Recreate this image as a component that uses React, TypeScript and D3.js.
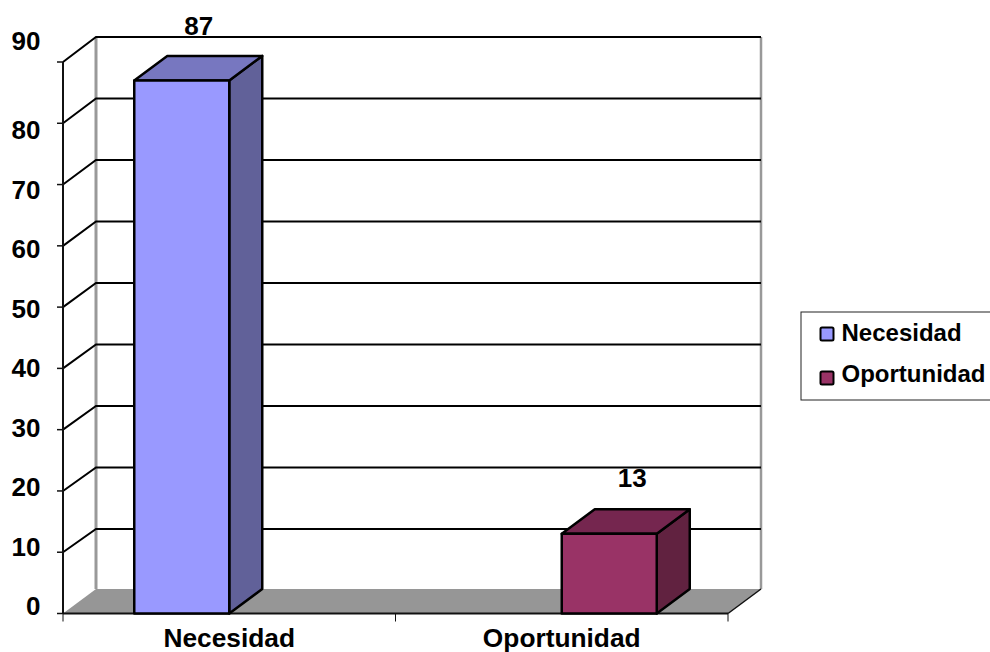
import React from "react";
import * as d3 from "d3";

const categories = ["Necesidad", "Oportunidad"];
const seriesNames = ["Necesidad", "Oportunidad"];
const seriesValues = [87, 13];
const yTicks = [0, 10, 20, 30, 40, 50, 60, 70, 80, 90];

const faceColors = ["#9999FF", "#993366"];
const topColors = ["#7777C0", "#75264F"];
const sideColors = ["#616199", "#612240"];

const width = 990;
const height = 652;
const depthX = 33;
const depthY = 24.5;
const font = "'Liberation Sans', Arial, sans-serif";

export default function App() {
  const x = d3.scaleBand<string>().domain(categories).range([63, 728]);
  const y = d3.scaleLinear().domain([0, 90]).range([613.5, 62]);
  // back wall is a touch taller than the front plane in the original
  const yBack = d3.scaleLinear().domain([0, 90]).range([590.5, 37]);
  // two series per category, each with a bar only in its own slot
  const inner = d3.scaleBand<string>().domain(seriesNames).range([-95, 95]);
  // the tick labels do not sit on the ticks in the original, 90 is pushed up
  const labelY = d3.scaleLinear().domain([0, 80]).range([615, 139]);

  const bars = categories.map((c, i) => {
    const x0 = (x(c) as number) + x.bandwidth() / 2 + (inner(seriesNames[i]) as number);
    return { x0, x1: x0 + inner.bandwidth(), top: y(seriesValues[i]), bottom: y(0), i };
  });
  const pts = (p: number[][]) => p.map(q => q.join(",")).join(" ");

  return (
    <svg
      width={width}
      height={height}
      style={{ position: "absolute", left: 0, top: 0, background: "#fff" }}
      fontFamily={font}
      fontWeight="bold"
    >
      {/* floor */}
      <polygon
        points={pts([
          [63, y(0)],
          [63 + depthX, y(0) - depthY],
          [728 + depthX, y(0) - depthY],
          [728, y(0)],
        ])}
        fill="#969696"
      />

      {/* back walls */}
      <line x1={96} x2={96} y1={yBack(90)} y2={y(0) - depthY} stroke="#999" strokeWidth={3} />
      <line x1={761} x2={761} y1={yBack(90)} y2={y(0) - depthY} stroke="#999" strokeWidth={2.5} />

      {/* gridlines */}
      {yTicks.filter(t => t > 0).map(t => (
        <polyline
          key={t}
          points={pts([[63, y(t)], [96, yBack(t)], [761, yBack(t)]])}
          fill="none"
          stroke="#000"
          strokeWidth={2}
        />
      ))}

      {/* y axis */}
      <line x1={63} x2={63} y1={y(90)} y2={y(0)} stroke="#111" strokeWidth={2} />
      {yTicks.map(t => (
        <line key={t} x1={57} x2={63} y1={y(t)} y2={y(t)} stroke="#111" strokeWidth={1.5} />
      ))}
      {yTicks.map(t => (
        <text key={t} x={40.5} y={t === 90 ? 50 : labelY(t)} textAnchor="end" fontSize={26}>
          {t}
        </text>
      ))}

      {/* x axis */}
      <line x1={63} x2={728} y1={y(0)} y2={y(0)} stroke="#111" strokeWidth={2} />
      <line x1={728} x2={761} y1={y(0)} y2={y(0) - depthY} stroke="#111" strokeWidth={1.5} />
      {[63, ...categories.map(c => (x(c) as number) + x.bandwidth())].map((v, i) => (
        <line key={i} x1={v} x2={v} y1={y(0)} y2={y(0) + 8} stroke="#111" strokeWidth={1} />
      ))}
      {categories.map(c => (
        <text
          key={c}
          x={(x(c) as number) + x.bandwidth() / 2}
          y={647}
          textAnchor="middle"
          fontSize={26.3}
        >
          {c}
        </text>
      ))}

      {/* bars */}
      {bars.map(b => (
        <g key={b.i} stroke="#000" strokeWidth={2.5} strokeLinejoin="round">
          <polygon
            points={pts([
              [b.x1, b.top],
              [b.x1 + depthX, b.top - depthY],
              [b.x1 + depthX, b.bottom - depthY],
              [b.x1, b.bottom],
            ])}
            fill={sideColors[b.i]}
          />
          <polygon
            points={pts([
              [b.x0, b.top],
              [b.x0 + depthX, b.top - depthY],
              [b.x1 + depthX, b.top - depthY],
              [b.x1, b.top],
            ])}
            fill={topColors[b.i]}
          />
          <rect x={b.x0} y={b.top} width={b.x1 - b.x0} height={b.bottom - b.top} fill={faceColors[b.i]} />
        </g>
      ))}
      {bars.map(b => (
        <text
          key={b.i}
          x={(b.x0 + b.x1) / 2 + (b.i === 0 ? 17 : 23)}
          y={b.top - (b.i === 0 ? 45 : 47)}
          textAnchor="middle"
          fontSize={26}
        >
          {seriesValues[b.i]}
        </text>
      ))}

      {/* legend */}
      <rect x={801} y={312} width={200} height={88} fill="#fff" stroke="#222" strokeWidth={1} />
      {seriesNames.map((s, i) => (
        <g key={s}>
          <rect
            x={820.5}
            y={i === 0 ? 327.5 : 371.5}
            width={13}
            height={13}
            rx={1.5}
            fill={faceColors[i]}
            stroke="#000"
            strokeWidth={2}
          />
          <text x={841.5} y={i === 0 ? 341 : 382} fontSize={24}>
            {s}
          </text>
        </g>
      ))}
    </svg>
  );
}
